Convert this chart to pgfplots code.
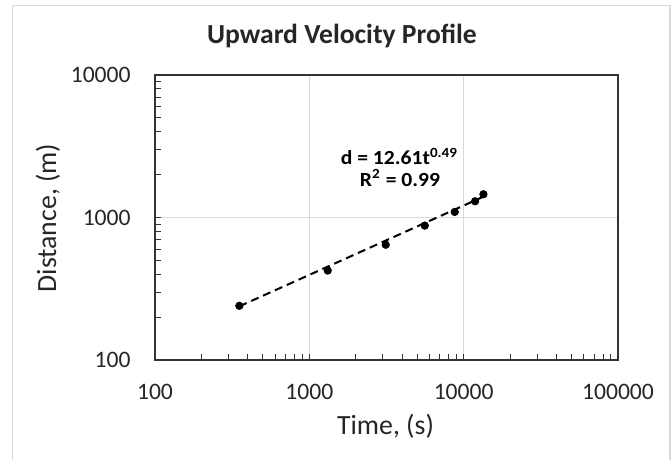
\documentclass[border=0pt]{standalone}
\usepackage{fontspec}
\setmainfont{Carlito}
\usepackage{pgfplots}
\pgfplotsset{compat=1.18}
\definecolor{gridgray}{HTML}{D9D9D9}
\definecolor{bordergray}{HTML}{D9D9D9}
\begin{document}
\begin{tikzpicture}
\path[use as bounding box] (0,0) rectangle (335.5pt,230pt);
\fill[white] (0,0) rectangle (335.5pt,230pt);
\draw[bordergray, line width=0.8pt] (6.25pt,-3pt) -- (6.25pt,227.25pt) -- (335pt,227.25pt) -- (335pt,-3pt);
\begin{axis}[
  at={(77.5pt,50pt)}, anchor=south west,
  scale only axis, width=231.5pt, height=142.5pt,
  xmode=log, ymode=log,
  xmin=100, xmax=100000, ymin=100, ymax=10000,
  xtick={100,1000,10000,100000},
  xticklabels={100,1000,10000,100000},
  ytick={100,1000,10000},
  yticklabels={100,1000,10000},
  minor xtick={200,300,400,500,600,700,800,900,2000,3000,4000,5000,6000,7000,8000,9000,20000,30000,40000,50000,60000,70000,80000,90000},
  minor ytick={200,300,400,500,600,700,800,900,2000,3000,4000,5000,6000,7000,8000,9000},
  xtick pos=bottom, ytick pos=left,
  tick align=inside,
  major tick length=3pt, minor tick length=3pt,
  tick style={black!80, line width=0.5pt},
  xmajorgrids, ymajorgrids,
  major grid style={gridgray, line width=0.5pt},
  axis line style={black!80, line width=0.6pt},
  /pgf/number format/assume math mode=true,
  xticklabel style={font=\fontsize{11.8pt}{14pt}\selectfont, anchor=base, inner sep=0pt, yshift=-20pt, text=black!85},
  yticklabel style={font=\fontsize{11.8pt}{14pt}\selectfont, anchor=east, inner sep=0pt, xshift=-12pt, text=black!85},
  clip=false,
]
\addplot[black, line width=1pt, dash pattern=on 4pt off 2.5pt] coordinates {(352,238) (13430,1400)};
\addplot[only marks, mark=*, mark size=1.85pt, black] coordinates {
(352,240) (1316,424) (3126,644) (5598,877) (8750,1094) (11860,1300) (13430,1455)};
\end{axis}
\node[anchor=base, font=\fontsize{13.8pt}{16pt}\selectfont\bfseries, text=black!85] at (171pt,208.4pt) {Upward Velocity Profile};
\node[anchor=base, inner sep=0pt, font=\fontsize{10pt}{12pt}\selectfont\bfseries] at (199.75pt,147.6pt) {\scalebox{1.08}[1]{d = 12.61t\textsuperscript{0.49}}};
\node[anchor=base, inner sep=0pt, font=\fontsize{10pt}{12pt}\selectfont\bfseries] at (200pt,136.9pt) {\scalebox{1.08}[1]{R\textsuperscript{2} = 0.99}};
\node[anchor=base, font=\fontsize{13.9pt}{16pt}\selectfont, text=black!85] at (192.75pt,12.5pt) {Time, (s)};
\node[anchor=base, rotate=90, font=\fontsize{13.9pt}{16pt}\selectfont, text=black!85] at (28pt,121pt) {Distance, (m)};
\end{tikzpicture}
\end{document}
